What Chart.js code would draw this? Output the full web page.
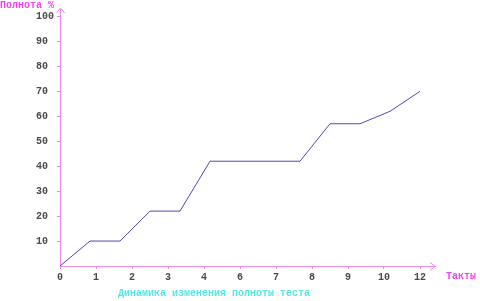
<!DOCTYPE html>
<html>
<head>
<meta charset="utf-8">
<script src="https://cdn.jsdelivr.net/npm/chart.js@4"></script>
<style>
  html, body { margin: 0; padding: 0; background: #fff; }
  #wrap { width: 480px; height: 301px; position: relative; }
</style>
</head>
<body>
<div id="wrap"><canvas id="chart"></canvas></div>
<script>
// data
const takts = [0, 1, 2, 3, 4, 5, 6, 7, 8, 9, 10, 11, 12];
const coverage = [0, 10, 10, 22, 22, 42, 42, 42, 42, 57, 57, 62, 70];
const xTickLabels = ['0', '1', '2', '3', '4', '6', '7', '8', '9', '10', '12'];
const yTickValues = [10, 20, 30, 40, 50, 60, 70, 80, 90, 100];

const axisColor = '#e78de7';
const labelColor = '#ee44ee';
const titleColor = '#55e6e6';
const tickFont = { family: 'Liberation Mono', size: 10, weight: 'bold' };

// arrows, axis names and caption
const decorations = {
  id: 'decorations',
  afterDraw(chart) {
    const { ctx, chartArea } = chart;
    const { left, right, top, bottom } = chartArea;
    ctx.save();
    ctx.strokeStyle = axisColor;
    ctx.lineWidth = 1;
    ctx.beginPath();
    ctx.moveTo(left - 3.5, top + 4);
    ctx.lineTo(left + 0.5, top - 1);
    ctx.lineTo(left + 4.5, top + 4);
    ctx.moveTo(right - 5, bottom - 3.5);
    ctx.lineTo(right, bottom + 0.5);
    ctx.lineTo(right - 5, bottom + 4.5);
    ctx.stroke();

    ctx.font = 'bold 10px "Liberation Mono"';
    ctx.textBaseline = 'middle';
    ctx.fillStyle = labelColor;
    ctx.textAlign = 'left';
    ctx.fillText('Полнота %', 0, 5);
    ctx.fillText('Такты', 446, 276);

    ctx.fillStyle = titleColor;
    ctx.textAlign = 'center';
    ctx.fillText('Динамика изменения полноты теста', 214, 293);
    ctx.restore();
  }
};

new Chart(document.getElementById('chart'), {
  type: 'line',
  data: {
    labels: takts,
    datasets: [{
      data: takts.map((t, i) => ({ x: t, y: coverage[i] })),
      borderColor: '#4b4bb4',
      borderWidth: 1,
      pointRadius: 0,
      tension: 0,
      fill: false
    }]
  },
  options: {
    responsive: true,
    maintainAspectRatio: false,
    animation: false,
    layout: { padding: { top: 5, right: 45, left: 36, bottom: 0 } },
    plugins: { legend: { display: false }, tooltip: { enabled: false } },
    scales: {
      x: {
        type: 'linear',
        min: 0,
        max: 12.5,
        afterBuildTicks: scale => {
          scale.ticks = xTickLabels.map((_, i) => ({ value: i * 1.2 }));
        },
        afterFit: scale => { scale.height = 35; },
        ticks: {
          autoSkip: false,
          maxRotation: 0,
          padding: 2,
          color: '#4a4a4a',
          font: tickFont,
          callback: (v, i) => xTickLabels[i]
        },
        grid: { drawOnChartArea: false, drawTicks: true, tickLength: 3, color: axisColor },
        border: { color: axisColor, width: 1 }
      },
      y: {
        min: 0,
        max: 103,
        afterBuildTicks: scale => {
          scale.ticks = yTickValues.map(v => ({ value: v }));
        },
        afterFit: scale => { scale.width = 24; },
        ticks: {
          crossAlign: 'far',
          color: '#4a4a4a',
          font: tickFont,
          callback: v => String(v)
        },
        grid: { drawOnChartArea: false, drawTicks: true, tickLength: 3, color: axisColor },
        border: { color: axisColor, width: 1 }
      }
    }
  },
  plugins: [decorations]
});
</script>
</body>
</html>
